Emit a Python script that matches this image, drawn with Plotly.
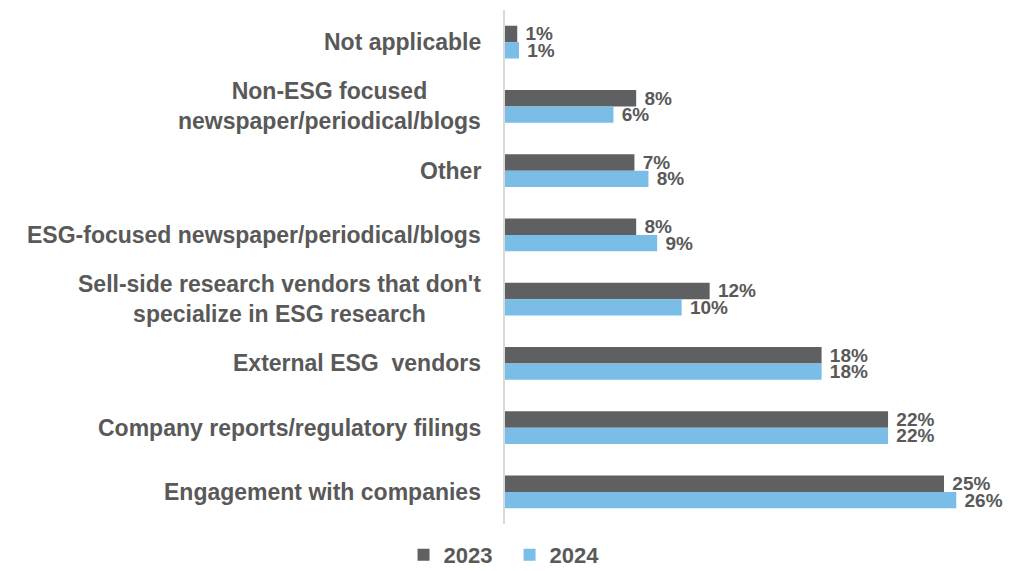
import plotly.graph_objects as go

categories = [
    "Not applicable",
    "Non-ESG focused<br>newspaper/periodical/blogs",
    "Other",
    "ESG-focused newspaper/periodical/blogs",
    "Sell-side research vendors that don't<br>specialize in ESG research",
    "External ESG  vendors",
    "Company reports/regulatory filings",
    "Engagement with companies",
]
values_2023 = [0.7, 7.5, 7.4, 7.5, 11.7, 18.1, 21.9, 25.1]
values_2024 = [0.8, 6.2, 8.2, 8.7, 10.1, 18.1, 21.9, 25.8]
labels_2023 = ["1%", "8%", "7%", "8%", "12%", "18%", "22%", "25%"]
labels_2024 = ["1%", "6%", "8%", "9%", "10%", "18%", "22%", "26%"]

FONT = "Liberation Sans, Arial, sans-serif"
TXT = "#595959"
NBSP = "\u00a0"

fig = go.Figure()
fig.add_trace(go.Bar(
    name="2023", y=categories, x=values_2023, orientation="h",
    marker=dict(color="#5f6062", line=dict(width=0)),
    text=[NBSP + t for t in labels_2023], textposition="outside",
    constraintext="none", cliponaxis=False,
    textfont=dict(family=FONT, size=19, color=TXT, weight="bold"),
))
fig.add_trace(go.Bar(
    name="2024", y=categories, x=values_2024, orientation="h",
    marker=dict(color="#7abde6", line=dict(width=0)),
    text=[NBSP + t for t in labels_2024], textposition="outside",
    constraintext="none", cliponaxis=False,
    textfont=dict(family=FONT, size=19, color=TXT, weight="bold"),
))

for c in categories:
    fig.add_annotation(
        x=0, xref="paper", y=c, yref="y", xanchor="right", xshift=-22,
        text=c, showarrow=False, align="center",
        font=dict(family=FONT, size=23, color=TXT, weight="bold"),
    )

fig.update_layout(
    width=1009, height=571,
    margin=dict(l=505, r=9, t=10, b=47),
    paper_bgcolor="white", plot_bgcolor="white",
    barmode="group", bargap=0.49, bargroupgap=0,
    font=dict(family=FONT, size=22, color=TXT),
    showlegend=True,
    legend=dict(orientation="h", xref="container", x=0.505, xanchor="center",
                yref="container", y=0.028, yanchor="middle",
                font=dict(family=FONT, size=22, color=TXT, weight="bold"),
                itemwidth=30, entrywidthmode="pixels", entrywidth=61,
                bgcolor="rgba(0,0,0,0)"),
    xaxis=dict(range=[0, 28.3], visible=False, showgrid=False, zeroline=False),
    yaxis=dict(autorange="reversed", showticklabels=False, showgrid=False,
               zeroline=False, showline=True, linecolor="#d9d9d9", linewidth=1.5,
               ticks=""),
)

fig.write_html("out.html", config={"displayModeBar": False},
               post_script="document.body.style.margin='0';")
